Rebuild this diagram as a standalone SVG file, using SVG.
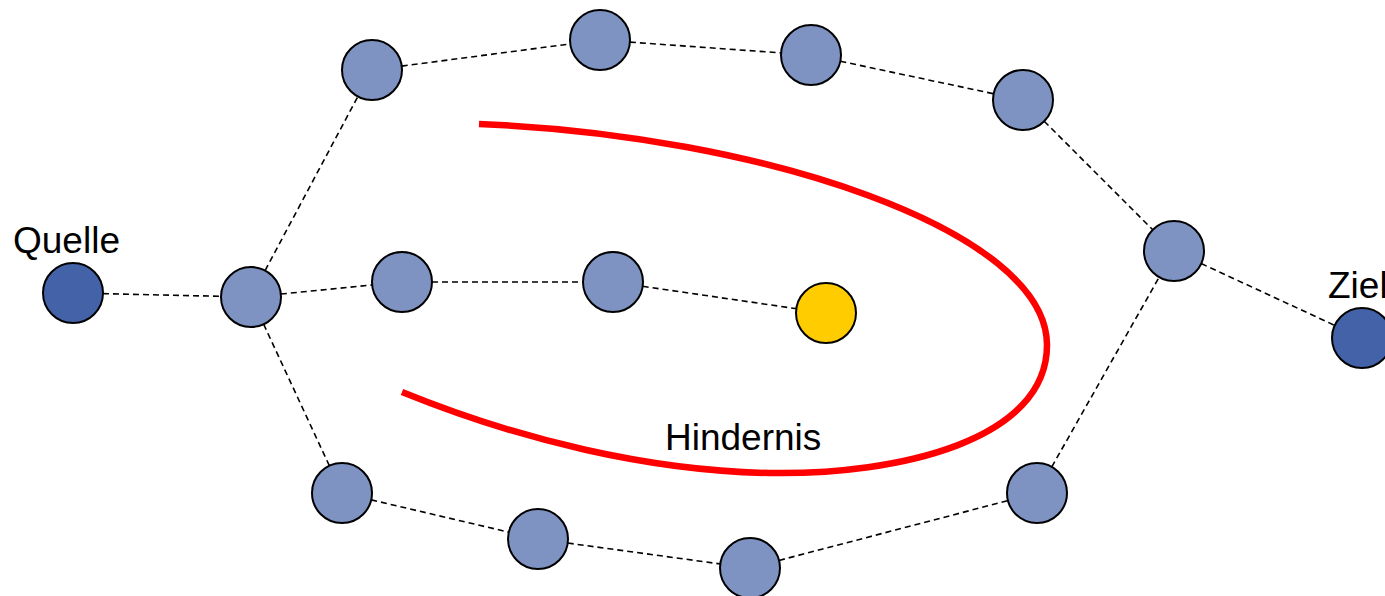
<svg xmlns="http://www.w3.org/2000/svg" width="1385" height="596" viewBox="0 0 1385 596">
<style>
.edge{stroke:#000;stroke-width:1.6;stroke-dasharray:6 4;fill:none}
.n{fill:#7f93c3;stroke:#000;stroke-width:2}
.d{fill:#4462a8;stroke:#000;stroke-width:2}
.y{fill:#ffcc00;stroke:#000;stroke-width:2}
.t{font-family:"Liberation Sans",Arial,sans-serif;font-size:37px;fill:#000}
</style>
<rect width="1385" height="596" fill="#fff"/>
<g id="connectors">
<line class="edge" x1="73" y1="293" x2="251" y2="297"/>
<line class="edge" x1="251" y1="297" x2="372" y2="70"/>
<line class="edge" x1="372" y1="70" x2="600" y2="40"/>
<line class="edge" x1="600" y1="40" x2="811" y2="55"/>
<line class="edge" x1="811" y1="55" x2="1023" y2="100"/>
<line class="edge" x1="1023" y1="100" x2="1174" y2="251"/>
<line class="edge" x1="1174" y1="251" x2="1362" y2="338"/>
<line class="edge" x1="251" y1="297" x2="402" y2="282"/>
<line class="edge" x1="402" y1="282" x2="613" y2="282"/>
<line class="edge" x1="613" y1="282" x2="826" y2="313"/>
<line class="edge" x1="251" y1="297" x2="342" y2="493"/>
<line class="edge" x1="342" y1="493" x2="538" y2="539"/>
<line class="edge" x1="538" y1="539" x2="750" y2="568"/>
<line class="edge" x1="750" y1="568" x2="1037" y2="493"/>
<line class="edge" x1="1037" y1="493" x2="1174" y2="251"/>
</g>
<g id="obstacle">
<path d="M479,124 C760,135 1047,230 1047,345 C1047,440 900,475 770,473 C650,471 520,440 402,392" fill="none" stroke="#ff0000" stroke-width="6.5"/>
<text class="t" x="665" y="450">Hindernis</text>
</g>
<g id="quelle"><circle class="d" cx="73" cy="293" r="30"/><text class="t" x="13" y="253">Quelle</text></g>
<g id="ziel"><circle class="d" cx="1362" cy="338" r="30"/><text class="t" x="1328" y="298">Ziel</text></g>
<g id="a"><circle class="n" cx="251" cy="297" r="30"/></g>
<g id="top1"><circle class="n" cx="372" cy="70" r="30"/></g>
<g id="top2"><circle class="n" cx="600" cy="40" r="30"/></g>
<g id="top3"><circle class="n" cx="811" cy="55" r="30"/></g>
<g id="top4"><circle class="n" cx="1023" cy="100" r="30"/></g>
<g id="right"><circle class="n" cx="1174" cy="251" r="30"/></g>
<g id="mid1"><circle class="n" cx="402" cy="282" r="30"/></g>
<g id="mid2"><circle class="n" cx="613" cy="282" r="30"/></g>
<g id="goal"><circle class="y" cx="826" cy="313" r="30"/></g>
<g id="bot1"><circle class="n" cx="342" cy="493" r="30"/></g>
<g id="bot2"><circle class="n" cx="538" cy="539" r="30"/></g>
<g id="bot3"><circle class="n" cx="750" cy="568" r="30"/></g>
<g id="bot4"><circle class="n" cx="1037" cy="493" r="30"/></g>
</svg>
